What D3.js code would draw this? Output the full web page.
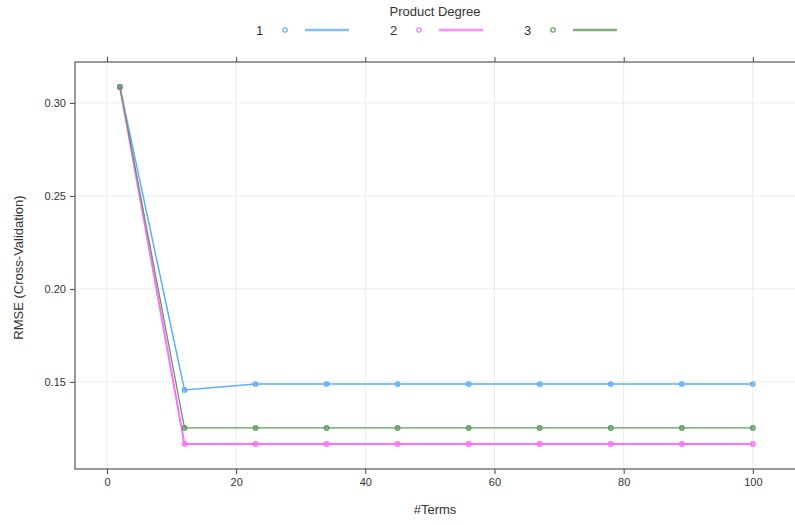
<!DOCTYPE html>
<html>
<head>
<meta charset="utf-8">
<script src="https://cdn.jsdelivr.net/npm/d3@7"></script>
<style>
  body { margin: 0; background: #fff; overflow: hidden; }
  text { font-family: "Liberation Sans", Arial, sans-serif; }
</style>
</head>
<body>
<svg id="chart" width="795" height="525"></svg>
<script>
// data
let terms = [2, 12, 23, 34, 45, 56, 67, 78, 89, 100];
let degrees = ["1", "2", "3"];
let rmse1 = [0.3086, 0.1457, 0.1489, 0.1489, 0.1489, 0.1489, 0.1489, 0.1489, 0.1489, 0.1489];
let rmse2 = [0.3086, 0.1167, 0.1167, 0.1167, 0.1167, 0.1167, 0.1167, 0.1167, 0.1167, 0.1167];
let rmse3 = [0.3086, 0.1253, 0.1253, 0.1253, 0.1253, 0.1253, 0.1253, 0.1253, 0.1253, 0.1253];
let xTicks = [0, 20, 40, 60, 80, 100];
let yTicks = [0.15, 0.20, 0.25, 0.30];

let colors = ["#5eadff", "#ff6eff", "#5c9c5c"];
let widths = [1.5, 2, 1.3];
let series = [rmse1, rmse2, rmse3];

let svg = d3.select("#chart");
// the panel runs past the right edge of the picture (cropped)
let pLeft = 75, pRight = 800, pTop = 62, pBottom = 469;

let x = d3.scaleLinear().domain([-4.95, 107.3]).range([pLeft, pRight]);
let y = d3.scaleLinear().domain([0.1032, 0.322]).range([pBottom, pTop]);

// grid
let grid = svg.append("g");
grid.selectAll("line.vx").data(xTicks).join("line")
  .attr("x1", d => x(d)).attr("x2", d => x(d))
  .attr("y1", pTop).attr("y2", pBottom)
  .attr("stroke", "#ebebeb").attr("stroke-width", 1);
grid.selectAll("line.hy").data(yTicks).join("line")
  .attr("x1", pLeft).attr("x2", pRight)
  .attr("y1", d => y(d)).attr("y2", d => y(d))
  .attr("stroke", "#ebebeb").attr("stroke-width", 1);

// axes
let fmtY = d3.format(".2f");
let bAxis = d3.axisBottom(x).tickValues(xTicks).tickSize(5).tickPadding(4);
let lAxis = d3.axisLeft(y).tickValues(yTicks).tickSize(5).tickPadding(4).tickFormat(fmtY);
let tAxis = d3.axisTop(x).tickValues(xTicks).tickSize(5).tickFormat("");

function styleAxis(g) {
  g.select(".domain").remove();
  g.selectAll(".tick line").attr("stroke", "#444");
  g.selectAll(".tick text").attr("fill", "#333").style("font-size", "11px");
}
svg.append("g").attr("transform", `translate(0,${pBottom})`).call(bAxis).call(styleAxis);
svg.append("g").attr("transform", `translate(${pLeft},0)`).call(lAxis).call(styleAxis);
svg.append("g").attr("transform", `translate(0,${pTop})`).call(tAxis).call(styleAxis);

svg.append("rect")
  .attr("x", pLeft).attr("y", pTop)
  .attr("width", pRight - pLeft).attr("height", pBottom - pTop)
  .attr("fill", "none").attr("stroke", "#555").attr("stroke-width", 1.2);

// lines + points
let line = d3.line().x((d, i) => x(terms[i])).y(d => y(d));
series.forEach(function (s, k) {
  let g = svg.append("g");
  g.append("path").datum(s)
    .attr("d", line)
    .attr("fill", "none")
    .attr("stroke", colors[k])
    .attr("stroke-width", widths[k]);
  g.selectAll("circle").data(s).join("circle")
    .attr("cx", (d, i) => x(terms[i]))
    .attr("cy", d => y(d))
    .attr("r", 2.3)
    .attr("fill", colors[k])
    .attr("fill-opacity", 0.6)
    .attr("stroke", colors[k])
    .attr("stroke-width", 1.1);
});

// axis titles
svg.append("text")
  .attr("x", 435).attr("y", 514)
  .attr("text-anchor", "middle").attr("fill", "#333")
  .style("font-size", "13px").text("#Terms");
svg.append("text")
  .attr("transform", `translate(23,${(pTop + pBottom) / 2 + 2}) rotate(-90)`)
  .attr("text-anchor", "middle").attr("fill", "#333")
  .style("font-size", "13px").text("RMSE (Cross-Validation)");

// legend
svg.append("text")
  .attr("x", 435).attr("y", 16)
  .attr("text-anchor", "middle").attr("fill", "#333")
  .style("font-size", "13px").text("Product Degree");
let legend = svg.append("g").selectAll("g").data(degrees).join("g")
  .attr("transform", (d, i) => `translate(${256 + 134 * i},30)`);
legend.append("text")
  .attr("x", 0).attr("y", 5)
  .attr("fill", "#333").style("font-size", "13px")
  .text(d => d);
legend.append("circle")
  .attr("cx", 29).attr("cy", 0).attr("r", 2.2)
  .attr("fill", "none")
  .attr("stroke", (d, i) => colors[i]).attr("stroke-width", 1.2);
legend.append("line")
  .attr("x1", 49).attr("x2", 93).attr("y1", 0).attr("y2", 0)
  .attr("stroke", (d, i) => colors[i]).attr("stroke-width", 2.5)
  .attr("stroke-opacity", 0.8);
</script>
</body>
</html>
